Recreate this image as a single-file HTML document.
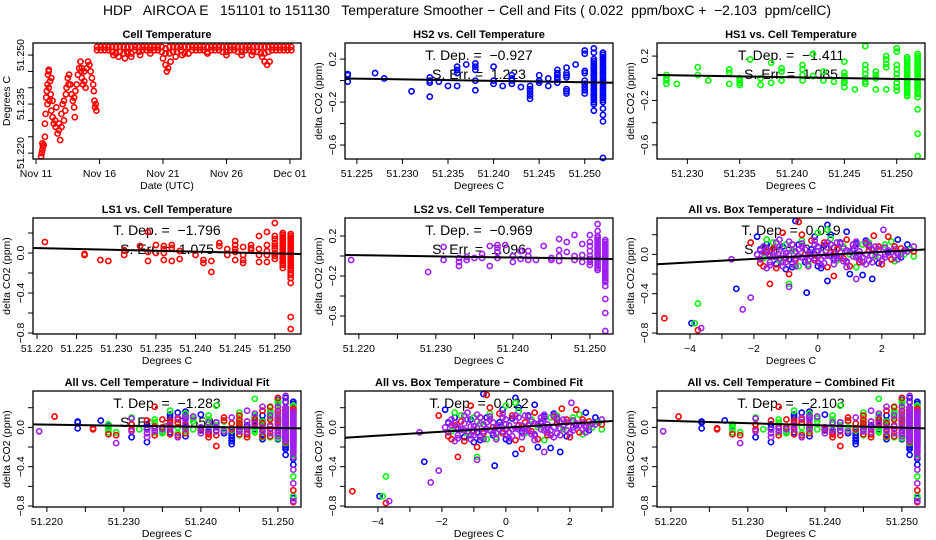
<!DOCTYPE html>
<html><head><meta charset="utf-8"><style>
body{margin:0;background:#fff;}
svg{display:block;font-family:"Liberation Sans",Arial,sans-serif;}
text{white-space:pre;}
</style></head><body>
<svg id="chart" width="936" height="540" viewBox="0 0 936 540">
<rect x="0" y="0" width="936" height="540" fill="#fff"/>
<text x="467" y="15" text-anchor="middle" font-size="14" textLength="728" lengthAdjust="spacingAndGlyphs" xml:space="preserve">HDP   AIRCOA E   151101 to 151130   Temperature Smoother − Cell and Fits ( 0.022  ppm/boxC +  −2.103  ppm/cellC)</text>
</svg>
<script>
// ---------- DATA ----------
const tsDays = [0.4,0.45,0.5,0.55,0.6,0.5,0.7,0.7,0.75,0.8,0.85,0.9,0.95,1.0,1.0,1.05,1.1,1.15,1.2,1.3,1.4,1.5,1.6,1.55,1.7,1.8,1.9,1.8,2.0,2.1,2.2,2.3,2.35,2.4,2.5,2.6,2.55,2.7,2.8,2.9,3.0,3.05,3.0,3.1,3.2,3.3,3.4,3.5,3.55,3.6,3.7,3.8,3.9,4.0,4.1,4.2,4.3,4.4,4.5,4.55,4.6,4.65,4.7,4.75,1.0,1.2,0.9,1.3,2.2,2.0,3.6,3.8,
6.1,6.5,7.0,7.5,8.2,10.0,10.2,10.3,10.4,10.6,11.0,11.5,12.0,15.0,16.2,17.0,17.8,18.0,18.2,18.4,6.3,7.2,9.0,13.5];
const tsTemps = [51.219,51.220,51.221,51.222,51.2225,51.223,51.225,51.229,51.232,51.237,51.239,51.241,51.244,51.245,51.240,51.236,51.242,51.238,51.233,51.231,51.229,51.230,51.234,51.228,51.226,51.227,51.224,51.229,51.232,51.235,51.236,51.233,51.238,51.240,51.243,51.244,51.241,51.241,51.238,51.236,51.234,51.231,51.237,51.239,51.241,51.244,51.246,51.248,51.245,51.243,51.241,51.242,51.240,51.246,51.248,51.247,51.245,51.243,51.241,51.239,51.236,51.234,51.235,51.233,51.2455,51.243,51.235,51.236,51.230,51.228,51.246,51.245,
51.250,51.2495,51.249,51.2495,51.250,51.249,51.247,51.245,51.246,51.248,51.2495,51.250,51.2505,51.250,51.250,51.250,51.2495,51.248,51.247,51.248,51.2505,51.2505,51.2505,51.2505];
const bandDays = [4.8,5.1,5.4,5.7,6.0,6.3,6.6,6.9,7.2,7.5,7.8,8.1,8.4,8.7,9.0,9.3,9.6,9.9,10.2,10.5,10.8,11.1,11.4,11.7,12.0,12.3,12.6,12.9,13.2,13.5,13.8,14.1,14.4,14.7,15.0,15.3,15.6,15.9,16.2,16.5,16.8,17.1,17.4,17.7,18.0,18.3,18.6,18.9,19.2,19.5,19.8,20.1];
const bandTop = [51.2525,51.2525,51.2525,51.2525,51.2525,51.2525,51.2525,51.2525,51.2525,51.2525,51.2525,51.2525,51.2525,51.2525,51.2525,51.2525,51.2525,51.2525,51.2520,51.2525,51.2525,51.2525,51.2525,51.2525,51.2525,51.2525,51.2525,51.2525,51.2525,51.2525,51.2525,51.2525,51.2525,51.2525,51.2525,51.2525,51.2525,51.2525,51.2525,51.2525,51.2525,51.2525,51.2525,51.2525,51.2525,51.2525,51.2525,51.2525,51.2525,51.2525,51.2525,51.2525];
const bandLow = [51.2515,51.2515,51.2515,51.2515,51.251,51.2505,51.251,51.2505,51.251,51.2505,51.2515,51.251,51.2515,51.2515,51.2515,51.2515,51.2515,51.251,51.2505,51.2505,51.251,51.251,51.2515,51.2505,51.2505,51.2515,51.2515,51.2515,51.2515,51.251,51.2515,51.2515,51.2515,51.251,51.251,51.2515,51.2515,51.251,51.251,51.2515,51.2515,51.251,51.251,51.2505,51.2505,51.251,51.2515,51.2515,51.2515,51.2515,51.2515,51.2515];

const hs2X = [51.224,51.227,51.228,51.231,51.233,51.234,51.235,51.236,51.237,51.238,51.240,51.241,51.242,51.243,51.244,51.245,51.246,51.247,51.248,51.249,51.250,51.251,51.252];
const hs2Y = [[0.06,0.05,-0.01],[0.07],[0.02],[-0.1],[-0.15,0.03,-0.02,0.0],[-0.01],[-0.05],[0.13,0.10,0.07,-0.05],[0.15],[0.16,0.13,0.10,0.0,-0.09],[0.13,0.0,-0.03],[-0.05],[0.05,0.02,0.0,-0.03],[-0.06],[-0.05,-0.08,-0.11,-0.14,-0.17],[0.05,0.0,-0.02],[0.02,-0.05],[0.10,0.07,0.05,0.03,0.01,-0.02],[0.12,0.07,0.05,0.03,-0.08,-0.10,-0.12],[0.15],[0.28,0.25,0.09,0.07,0.0,-0.03,-0.06,-0.09,-0.12],
[0.30,0.26,0.2,0.18,0.16,0.14,0.12,0.1,0.08,0.06,0.04,0.02,0.0,-0.02,-0.04,-0.06,-0.08,-0.1,-0.12,-0.14,-0.16,-0.18,-0.2,-0.22,-0.28],
[0.26,0.24,0.22,0.2,0.18,0.16,0.14,0.12,0.1,0.08,0.06,0.04,0.02,0.0,-0.02,-0.04,-0.06,-0.08,-0.1,-0.12,-0.14,-0.16,-0.18,-0.2,-0.26,-0.32,-0.38,-0.72]];
const hs1X = [51.228,51.229,51.231,51.232,51.234,51.235,51.236,51.237,51.238,51.239,51.241,51.242,51.243,51.244,51.245,51.246,51.247,51.248,51.249,51.250,51.251,51.252];
const hs1Y = [[0.03,0.0,-0.02,-0.05],[-0.05],[0.1,0.03],[-0.02],[0.08,0.05,-0.05],[0.0,-0.02,-0.04,-0.06],[0.17],[0.0,-0.06],[0.14,-0.04],[0.09,0.06,-0.02],[0.12,0.08,0.03,-0.02],[0.22,0.02],[0.06,-0.02],[-0.03],[0.15,0.05,0.02,0.0,-0.02,-0.04,-0.08],[-0.1],[0.29,0.12,0.08,0.04,0.0,-0.03,-0.05],[0.06,0.03,0.0,-0.1],[0.2,0.17,0.13,0.1,-0.1],[0.27,0.24,0.12,0.08,0.04,0.0,-0.04,-0.08,-0.11],
[0.19,0.17,0.15,0.13,0.11,0.09,0.07,0.05,0.03,0.01,-0.01,-0.03,-0.05,-0.07,-0.09,-0.11,-0.13,-0.15,-0.16],
[0.22,0.2,0.18,0.16,0.14,0.12,0.1,0.08,0.06,0.04,0.02,0.0,-0.02,-0.04,-0.06,-0.08,-0.1,-0.12,-0.14,-0.17,-0.28,-0.5,-0.7]];
const ls1X = [51.221,51.226,51.228,51.229,51.231,51.233,51.234,51.235,51.236,51.237,51.238,51.240,51.241,51.242,51.243,51.244,51.245,51.246,51.247,51.248,51.249,51.250,51.251,51.252];
const ls1Y = [[0.11],[-0.01,-0.02],[-0.07],[-0.08],[0.03,-0.02],[0.07],[0.21,0.01,-0.08],[0.08,0.0],[0.07,0.04,0.0,-0.07],[0.08,0.05,-0.08],[0.02,-0.06],[-0.02],[-0.07,-0.1],[-0.08,-0.19],[0.1,0.07],[0.04,-0.02],[0.12,0.08,0.04,0.01,-0.07],[0.06,-0.02,-0.07,-0.1],[0.08,0.05,0.03],[0.17,0.04,-0.02,-0.09],[0.21,0.08,0.02,-0.02,-0.09],[0.3,0.17,0.14,0.1,0.07,0.04,0.0,-0.03,-0.06],
[0.2,0.18,0.16,0.14,0.12,0.1,0.08,0.06,0.04,0.02,0.0,-0.02,-0.04,-0.06,-0.08,-0.1,-0.12,-0.15],
[0.19,0.17,0.15,0.13,0.11,0.09,0.07,0.05,0.03,0.01,-0.01,-0.03,-0.05,-0.07,-0.09,-0.11,-0.13,-0.15,-0.17,-0.2,-0.22,-0.25,-0.3,-0.64,-0.76]];
const ls2X = [51.219,51.229,51.231,51.233,51.234,51.235,51.236,51.237,51.238,51.239,51.240,51.241,51.242,51.243,51.244,51.245,51.246,51.247,51.248,51.249,51.250,51.251,51.252];
const ls2Y = [[-0.04],[-0.16],[0.09,-0.04],[-0.02,-0.06,-0.1],[-0.01,-0.04],[-0.02],[0.02,-0.02],[0.1,-0.1],[0.11,0.08,0.04,-0.02],[0.11],[0.0,-0.06],[0.05,-0.03],[0.05,0.0,-0.04],[-0.04],[0.1],[-0.02,-0.04],[0.17,0.06,0.0,-0.05],[0.14,0.04],[0.21,0.0,-0.04],[0.12,0.01,-0.06],[0.21,0.14,0.1,0.05,0.0,-0.03,-0.06,-0.09],
[0.32,0.25,0.2,0.18,0.16,0.14,0.12,0.1,0.08,0.06,0.04,0.02,0.0,-0.02,-0.04,-0.06,-0.08,-0.1,-0.12,-0.14],
[0.16,0.14,0.12,0.1,0.08,0.06,0.04,0.02,0.0,-0.02,-0.04,-0.06,-0.08,-0.1,-0.12,-0.14,-0.16,-0.18,-0.2,-0.22,-0.24,-0.26,-0.3,-0.43,-0.57,-0.75]];

const boxBlueX = [-3.95,-2.55,-0.35,0.3,1.0,1.4,1.7,2.5,0.9,-0.7,0.3,-1.9,-1.8,-1.5,-1.3,-1.1,-0.9,-0.6,-0.4,-0.2,0.0,0.2,0.5,0.7,0.9,1.1,1.3,1.6,1.9,2.2,2.6,2.9,-1.0,0.4,1.5,-0.1,-1.6,-0.8,0.1,1.2,2.0,2.8];
const boxBlueY = [-0.70,-0.35,-0.39,-0.27,-0.20,-0.21,-0.25,0.15,0.23,0.34,0.30,0.18,0.05,-0.02,-0.10,0.08,-0.05,0.10,-0.08,0.05,-0.12,0.09,-0.04,0.12,-0.08,0.04,-0.05,0.08,-0.09,0.02,-0.03,0.05,-0.15,0.2,0.14,0.18,0.1,-0.13,-0.14,0.11,-0.06,0.1];
const boxGreenX = [-3.85,-3.75,-0.9,0.3,-1.7,-1.4,-1.2,-0.8,-0.5,-0.3,0.1,0.4,0.6,0.8,1.2,1.4,1.8,2.1,2.4,2.7,3.0,-1.6,0.0,2.3,-0.6,1.0,-1.0,0.5,1.6,2.9];
const boxGreenY = [-0.70,-0.50,-0.30,0.25,-0.04,0.12,-0.06,0.04,0.14,-0.1,0.02,0.16,-0.06,0.08,-0.13,0.1,-0.02,0.1,-0.07,0.0,-0.02,0.15,0.22,0.13,-0.12,0.0,0.1,-0.1,0.12,0.05];
const boxRedX = [-4.8,-3.75,-1.5,0.5,1.75,2.2,-1.1,-0.6,-2.1,-0.5,-1.8,-1.6,-1.3,-1.0,-0.8,-0.4,-0.1,0.2,0.3,0.6,0.8,1.1,1.3,1.6,1.9,2.3,2.6,3.0,-0.9,0.9,2.0,-1.4,-0.7,-0.2,0.4,1.0,1.5,2.4,-1.7,0.0];
const boxRedY = [-0.65,-0.77,-0.30,-0.22,0.19,0.18,0.22,0.33,0.12,0.2,-0.09,0.02,-0.14,-0.04,0.1,0.0,-0.06,0.12,-0.13,0.05,-0.04,0.1,-0.08,0.04,0.08,-0.05,0.06,0.03,-0.2,0.15,-0.1,0.06,-0.06,0.14,0.02,-0.12,0.11,0.08,-0.12,-0.02];
const boxPurpleX = [-3.65,-2.7,-2.35,-2.1,-0.9,1.2,2.05,-1.9,-1.7,-1.5,-1.3,-1.1,-0.9,-0.7,-0.5,-0.3,-0.1,0.1,0.3,0.5,0.7,0.9,1.1,1.3,1.5,1.7,1.9,2.1,2.4,2.7,3.0,-1.6,-0.2,0.6,1.2,-1.2,0.0,-0.8,0.4,1.6,
-1.8,-1.4,-1.0,-0.6,-0.2,0.2,0.6,1.0,1.4,1.8,2.2,-1.6,-1.2,-0.8,-0.4,0.0,0.4,0.8,1.2,1.6,2.0,-1.0,-0.4,0.2,0.8,1.4,2.6,
-1.7,-1.5,-1.3,-1.1,-0.9,-0.7,-0.5,-0.3,-0.1,0.1,0.3,0.5,0.7,0.9,1.1,1.3,1.5,1.7,1.9,2.1,2.3,2.5,-1.5,-1.1,-0.7,-0.3,0.1,0.5,0.9,1.3,1.7,2.1,2.5,2.8,
-1.3,-0.9,-0.5,-0.1,0.3,0.7,1.1,1.5,-1.8,-1.2,-0.6,0.0,0.6,1.2,1.8,2.4];
const boxPurpleY = [-0.75,-0.05,-0.56,-0.44,-0.33,-0.25,0.25,0.0,0.08,-0.08,0.04,-0.12,0.06,-0.04,0.08,-0.12,0.1,-0.05,0.07,-0.1,0.02,-0.13,0.06,0.0,-0.1,0.05,-0.03,0.07,-0.02,0.04,0.08,-0.14,-0.02,0.12,0.13,0.15,0.03,-0.1,-0.02,-0.06,
-0.05,-0.02,0.01,-0.02,0.02,-0.02,-0.04,0.03,-0.03,0.02,0.04,0.05,0.08,0.1,0.05,0.08,0.1,0.06,0.09,0.1,-0.06,-0.08,-0.06,-0.09,-0.07,-0.08,0.0,
0.02,0.0,-0.03,0.01,-0.01,0.03,-0.03,0.0,-0.04,0.02,-0.01,0.02,-0.03,0.04,-0.02,0.03,0.0,-0.01,0.05,0.0,0.02,0.0,-0.11,-0.08,-0.12,-0.06,-0.11,-0.06,-0.07,-0.05,-0.08,-0.03,-0.05,0.03,
0.12,0.13,0.11,0.14,0.12,0.11,0.1,0.12,0.04,-0.04,0.05,-0.08,-0.01,-0.03,0.08,0.05];

const fitHS2 = [0.02,-0.02], fitHS1 = [0.03,-0.01], fitLS1 = [0.05,-0.01], fitLS2 = [0.01,-0.03];
const fitBoxInd = [-0.10,0.05], fitCellInd = [0.03,-0.01], fitBoxComb = [-0.105,0.065], fitCellComb = [0.07,-0.01];
const statText = {hs2:["−0.927","1.223"],hs1:["−1.411","1.085"],ls1:["−1.796","1.075"],ls2:["−0.969","1.096"],boxInd:["0.019","0.009"],cellInd:["−1.283","0.559"],boxComb:["0.022",null],cellComb:["−2.103",null]};

// ---------- DRAWING ----------
const svg = document.getElementById('chart');
const NS = 'http://www.w3.org/2000/svg';
const BLUE='#0000ff', GREEN='#00ff00', RED='#ff0000', PURPLE='#a020f0';
function mk(tag, attrs, parent){ const e=document.createElementNS(NS,tag); for(const k in attrs) e.setAttribute(k,attrs[k]); (parent||svg).appendChild(e); return e; }
function scale(d0,d1,r0,r1){ return v => r0 + (v-d0)/(d1-d0)*(r1-r0); }

function panel(cfg){
  const g = mk('g',{});
  
  
  const sx = scale(cfg.xd[0],cfg.xd[1],cfg.L,cfg.R), sy = scale(cfg.yd[0],cfg.yd[1],cfg.B,cfg.T);
  cfg.sx=sx; cfg.sy=sy; cfg.g=g;
  const t = mk('text',{x:(cfg.L+cfg.R)/2,y:cfg.T-5,'text-anchor':'middle','font-size':11,'font-weight':'bold'},g);
  t.textContent = cfg.title;
  
  
  cfg.xt.forEach((v,i)=>{
    const x=sx(v);
    const tk = mk('line',{x1:x,x2:x,y1:cfg.B,y2:cfg.B+5,stroke:'#000','stroke-width':1},g);
    
    
    if(cfg.xl[i]){ const l=mk('text',{x:x,y:cfg.B+18,'text-anchor':'middle','font-size':10.5},g); l.textContent=cfg.xl[i];
      
       }
  });
  cfg.yt.forEach((v,i)=>{
    const y=sy(v);
    const tk = mk('line',{x1:cfg.L-5,x2:cfg.L,y1:y,y2:y,stroke:'#000','stroke-width':1},g);
    
    
    if(cfg.yl[i]){ const xx=cfg.L-9; const l=mk('text',{x:xx,y:y,'text-anchor':'middle','font-size':10.5,transform:`rotate(-90 ${xx} ${y})`},g); l.textContent=cfg.yl[i];
      
       }
  });
  const xt = mk('text',{x:(cfg.L+cfg.R)/2,y:cfg.B+30,'text-anchor':'middle','font-size':10.5},g);
  xt.textContent = cfg.xlab;
  
  
  const yx = cfg.L-23, yy=(cfg.T+cfg.B)/2;
  const yt = mk('text',{x:yx,y:yy,'text-anchor':'middle','font-size':10.5,transform:`rotate(-90 ${yx} ${yy})`},g);
  yt.textContent = cfg.ylab;
  
  
  if(cfg.stats){
    const cx=(cfg.L+cfg.R)/2;
    const a=mk('text',{x:cx,y:cfg.T+17,'text-anchor':'middle','font-size':14},g);
    a.textContent='T. Dep. =  '+cfg.stats[0];
    
    
    if(cfg.stats[1]){ const b=mk('text',{x:cx,y:cfg.T+36,'text-anchor':'middle','font-size':14},g);
      b.textContent='S. Err. =  '+cfg.stats[1];
      
       }
  }
  return cfg;
}
function box(cfg){
  const r = mk('rect',{x:cfg.L,y:cfg.T,width:cfg.R-cfg.L,height:cfg.B-cfg.T,fill:'none',stroke:'#000','stroke-width':1.3},cfg.g);
  
  
}
function pt(cfg,x,y,color){
  const c = mk('circle',{cx:cfg.sx(x),cy:cfg.sy(y),r:2.6,fill:'none',stroke:color,'stroke-width':1.6},cfg.g);
  
  
}
function colPts(cfg,xs,ys,color){ xs.forEach((x,i)=>ys[i].forEach(y=>pt(cfg,x,y,color))); }
function xyPts(cfg,xs,ys,color){ xs.forEach((x,i)=>pt(cfg,x,ys[i],color)); }
function fit(cfg,yy){
  const l = mk('line',{x1:cfg.L,x2:cfg.R,y1:cfg.sy(yy[0]),y2:cfg.sy(yy[1]),stroke:'#000','stroke-width':2},cfg.g);
  
  
}

const C=[33,345,657], W=268, ROWT=[43,218,391], H=116;
const Y1=[0.2,0.0,-0.2,-0.4,-0.6], Y1L=['0.2','','−0.2','','−0.6'];
const Y2=[0.2,0.0,-0.2,-0.4,-0.6,-0.8], Y2L=['','0.0','','−0.4','','−0.8'];
const T5=[51.220,51.225,51.230,51.235,51.240,51.245,51.250];
const T5all=['51.220','51.225','51.230','51.235','51.240','51.245','51.250'];
const T5ten=['51.220','','51.230','','51.240','','51.250'];
const BX=[-4,-3,-2,-1,0,1,2,3], BXL=['−4','','−2','','0','','2',''];

const p1 = panel({name:'cell-temperature-panel',title:'Cell Temperature',L:C[0],R:C[0]+W,T:ROWT[0],B:ROWT[0]+H,xd:[-0.24,20.87],yd:[51.2182,51.2537],
  xt:[0,5,10,15,20],xl:['Nov 11','Nov 16','Nov 21','Nov 26','Dec 01'],yt:[51.220,51.225,51.230,51.235,51.240,51.245,51.250],yl:['51.220','','','51.235','','','51.250'],xlab:'Date (UTC)',ylab:'Degrees C'});
xyPts(p1,tsDays,tsTemps,RED); xyPts(p1,bandDays,bandTop,RED); xyPts(p1,bandDays,bandLow,RED); box(p1);

const p2 = panel({name:'hs2-panel',title:'HS2 vs. Cell Temperature',L:C[1],R:C[1]+W,T:ROWT[0],B:ROWT[0]+H,xd:[51.2237,51.2531],yd:[-0.73,0.35],
  xt:T5.slice(1),xl:T5all.slice(1),yt:Y1,yl:Y1L,xlab:'Degrees C',ylab:'delta CO2 (ppm)',stats:statText.hs2});
colPts(p2,hs2X,hs2Y,BLUE); fit(p2,fitHS2); box(p2);

const p3 = panel({name:'hs1-panel',title:'HS1 vs. Cell Temperature',L:C[2],R:C[2]+W,T:ROWT[0],B:ROWT[0]+H,xd:[51.2271,51.2527],yd:[-0.727,0.318],
  xt:T5.slice(2),xl:T5all.slice(2),yt:Y1,yl:Y1L,xlab:'Degrees C',ylab:'delta CO2 (ppm)',stats:statText.hs1});
colPts(p3,hs1X,hs1Y,GREEN); fit(p3,fitHS1); box(p3);

const p4 = panel({name:'ls1-panel',title:'LS1 vs. Cell Temperature',L:C[0],R:C[0]+W,T:ROWT[1],B:ROWT[1]+H,xd:[51.2195,51.2533],yd:[-0.81,0.35],
  xt:T5,xl:T5all,yt:Y2,yl:Y2L,xlab:'Degrees C',ylab:'delta CO2 (ppm)',stats:statText.ls1});
colPts(p4,ls1X,ls1Y,RED); fit(p4,fitLS1); box(p4);

const p5 = panel({name:'ls2-panel',title:'LS2 vs. Cell Temperature',L:C[1],R:C[1]+W,T:ROWT[1],B:ROWT[1]+H,xd:[51.2182,51.2530],yd:[-0.78,0.38],
  xt:T5,xl:T5ten,yt:Y1,yl:Y1L,xlab:'Degrees C',ylab:'delta CO2 (ppm)',stats:statText.ls2});
colPts(p5,ls2X,ls2Y,PURPLE); fit(p5,fitLS2); box(p5);

function boxPanel(name,title,col,row,stats,fy){
  const p = panel({name:name,title:title,L:C[col],R:C[col]+W,T:ROWT[row],B:ROWT[row]+H,xd:[-5.03,3.35],yd:[-0.81,0.37],
    xt:BX,xl:BXL,yt:Y2,yl:Y2L,xlab:'Degrees C',ylab:'delta CO2 (ppm)',stats:stats});
  xyPts(p,boxBlueX,boxBlueY,BLUE); xyPts(p,boxGreenX,boxGreenY,GREEN); xyPts(p,boxRedX,boxRedY,RED); xyPts(p,boxPurpleX,boxPurpleY,PURPLE);
  fit(p,fy); box(p);
}
function cellPanel(name,title,col,stats,fy){
  const p = panel({name:name,title:title,L:C[col],R:C[col]+W,T:ROWT[2],B:ROWT[2]+H,xd:[51.2182,51.2530],yd:[-0.81,0.37],
    xt:T5,xl:T5ten,yt:Y2,yl:Y2L,xlab:'Degrees C',ylab:'delta CO2 (ppm)',stats:stats});
  colPts(p,hs2X,hs2Y,BLUE); colPts(p,hs1X,hs1Y,GREEN); colPts(p,ls1X,ls1Y,RED); colPts(p,ls2X,ls2Y,PURPLE);
  fit(p,fy); box(p);
}
boxPanel('all-box-individual-panel','All vs. Box Temperature − Individual Fit',2,1,statText.boxInd,fitBoxInd);
cellPanel('all-cell-individual-panel','All vs. Cell Temperature − Individual Fit',0,statText.cellInd,fitCellInd);
boxPanel('all-box-combined-panel','All vs. Box Temperature − Combined Fit',1,2,statText.boxComb,fitBoxComb);
cellPanel('all-cell-combined-panel','All vs. Cell Temperature − Combined Fit',2,statText.cellComb,fitCellComb);
</script>
</body></html>
